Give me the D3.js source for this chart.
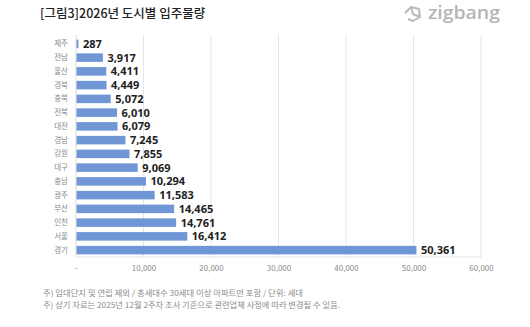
<!DOCTYPE html>
<html>
<head>
<meta charset="utf-8">
<script src="https://cdn.jsdelivr.net/npm/d3@7"></script>
<style>
  html, body { margin: 0; padding: 0; background: #fff; }
  svg { display: block; }
</style>
</head>
<body>
<svg id="chart" width="530" height="327"></svg>
<script>
// 2026 move-in supply by region (households)
const regions = ["제주", "전남", "울산", "경북", "충북", "전북", "대전", "경남", "강원", "대구", "충남", "광주", "부산", "인천", "서울", "경기"];
const supply = [287, 3917, 4411, 4449, 5072, 6010, 6079, 7245, 7855, 9069, 10294, 11583, 14465, 14761, 16412, 50361];
const tickValues = [0, 10000, 20000, 30000, 40000, 50000, 60000];
const tickLabels = ["-", "10,000", "20,000", "30,000", "40,000", "50,000", "60,000"];
const titleText = "[그림3]2026년 도시별 입주물량";
const notes = [
  "주) 임대단지 및 연립 제외 / 총세대수 30세대 이상 아파트만 포함 / 단위: 세대",
  "주) 상기 자료는 2025년 12월 2주차 조사 기준으로 관련업체 사정에 따라 변경될 수 있음."
];
const noteWidths = [260, 297];

const svg = d3.select("#chart");
const font = "'Noto Sans CJK KR', 'Noto Sans', sans-serif";

const plot = { left: 76, right: 481, top: 37, bottom: 257 };

const x = d3.scaleLinear().domain([0, 60000]).range([plot.left, plot.right]);
const y = d3.scaleBand().domain(regions).range([plot.top, plot.bottom]).paddingInner(0.38).paddingOuter(0.19);

// title
svg.append("text")
  .attr("x", 40).attr("y", 18)
  .attr("font-family", font).attr("font-size", 12.5).attr("font-weight", 500)
  .attr("fill", "#222")
  .text(titleText);

// zigbang mark
const logo = svg.append("g").attr("transform", "translate(402,4)");
logo.append("path")
  .attr("d", "M3,9 L9,3 L17,5 L18,13 L11,17 L6,15 M9,3 L11,10 L18,13")
  .attr("fill", "none").attr("stroke", "#b9b9b9").attr("stroke-width", 2).attr("stroke-linejoin", "round");
logo.append("text")
  .attr("x", 26).attr("y", 15)
  .attr("font-family", "'Open Sans', sans-serif").attr("font-size", 18).attr("font-weight", 600)
  .attr("fill", "#b5b5b5")
  .attr("textLength", 72).attr("lengthAdjust", "spacingAndGlyphs")
  .text("zigbang");

// vertical gridlines
svg.append("g").selectAll("line").data(tickValues.slice(1)).join("line")
  .attr("x1", d => x(d)).attr("x2", d => x(d))
  .attr("y1", plot.top - 2).attr("y2", plot.bottom)
  .attr("stroke", "#e6e6e6").attr("stroke-width", 1);

// baseline
svg.append("line")
  .attr("x1", x(0)).attr("x2", x(0)).attr("y1", plot.top - 2).attr("y2", plot.bottom)
  .attr("stroke", "#dcdcdc");
svg.append("line")
  .attr("x1", x(0)).attr("x2", plot.right).attr("y1", plot.bottom).attr("y2", plot.bottom)
  .attr("stroke", "#e6e6e6");

// x axis labels
const xAxis = d3.axisBottom(x).tickValues(tickValues).tickFormat((d, i) => tickLabels[i]).tickSize(0).tickPadding(6);
const gx = svg.append("g").attr("transform", `translate(0,${plot.bottom + 2})`).call(xAxis);
gx.select(".domain").remove();
gx.selectAll("text").attr("font-family", font).attr("font-size", 8).attr("fill", "#8a8a8a");

// category labels
const yAxis = d3.axisLeft(y).tickSize(0).tickPadding(8);
const gy = svg.append("g").attr("transform", `translate(${plot.left},0)`).call(yAxis);
gy.select(".domain").remove();
gy.selectAll("text").attr("font-family", font).attr("font-size", 7.5).attr("fill", "#8a8a8a");

// bars
svg.append("g").selectAll("rect").data(regions).join("rect")
  .attr("x", x(0) + 0.5)
  .attr("y", d => y(d))
  .attr("width", (d, i) => x(supply[i]) - x(0))
  .attr("height", y.bandwidth())
  .attr("fill", "#7096d6");

// value labels
svg.append("g").selectAll("text").data(regions).join("text")
  .attr("x", (d, i) => x(supply[i]) + 5)
  .attr("y", d => y(d) + y.bandwidth() / 2)
  .attr("dy", "0.36em")
  .attr("font-family", "'Noto Sans', sans-serif").attr("font-size", 11).attr("font-weight", 700)
  .attr("fill", "#222")
  .text((d, i) => d3.format(",")(supply[i]));

// footnotes
svg.append("g").selectAll("text").data(notes).join("text")
  .attr("x", 43).attr("y", (d, i) => 296 + i * 12)
  .attr("font-family", font).attr("font-size", 7.5).attr("fill", "#8a8a8a")
  .attr("textLength", (d, i) => noteWidths[i]).attr("lengthAdjust", "spacingAndGlyphs")
  .text(d => d);
</script>
</body>
</html>
